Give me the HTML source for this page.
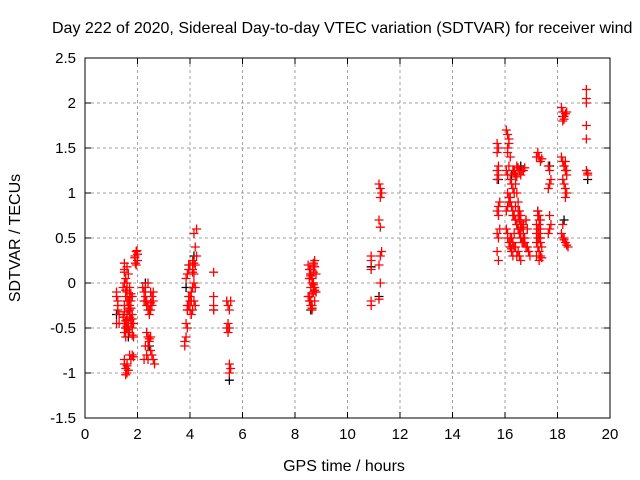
<!DOCTYPE html>
<html><head><meta charset="utf-8"><style>
body{margin:0;background:#fff;}
svg{display:block;font-family:"Liberation Sans",sans-serif;}
</style></head><body>
<svg id="chart" width="640" height="480">
<rect width="640" height="480" fill="#fff"/>
<text x="52" y="33" font-size="16">Day 222 of 2020, Sidereal Day-to-day VTEC variation (SDTVAR) for receiver wind</text>
<g id="grid"></g>
<g id="axes"></g>
<g id="marksB"></g>
<g id="marksR"></g>
<text x="344" y="471" font-size="16" text-anchor="middle">GPS time / hours</text>
<text transform="translate(20,238) rotate(-90)" font-size="16" text-anchor="middle">SDTVAR / TECUs</text>
</svg>
<script>
const xTicks=[0,2,4,6,8,10,12,14,16,18,20];
const yTicks=[-1.5,-1,-0.5,0,0.5,1,1.5,2,2.5];
const xTickLabels=["0","2","4","6","8","10","12","14","16","18","20"];
const yTickLabels=["-1.5","-1","-0.5","0","0.5","1","1.5","2","2.5"];
const redX=[1.2,1.2,1.25,1.25,1.2,1.3,1.3,1.25,
1.5,1.5,1.55,1.6,1.6,1.55,1.5,1.65,1.7,1.6,1.5,1.55,1.7,1.75,1.8,1.6,1.65,1.7,1.75,1.8,1.85,1.5,1.55,1.6,1.65,1.7,1.75,1.6,1.65,
1.45,1.5,1.55,1.6,1.65,1.7,1.75,1.8,1.45,1.5,1.55,1.6,1.65,1.7,1.75,1.8,1.85,1.5,1.6,1.7,1.8,
1.5,1.55,1.6,1.65,1.5,1.6,1.75,1.8,1.85,1.7,1.55,1.6,
1.9,1.95,2.0,1.95,2.0,1.9,1.92,1.98,
2.2,2.25,2.3,2.35,2.4,2.45,2.5,2.3,2.4,2.55,2.6,2.5,2.35,2.45,2.6,2.25,2.3,2.5,2.55,2.4,
2.35,2.4,2.45,2.3,2.5,2.55,2.6,2.65,2.4,2.35,2.25,2.5,2.4,2.45,
3.8,3.85,3.9,3.9,3.95,4.0,4.05,4.1,4.15,4.2,4.2,4.15,4.1,3.85,3.9,4.0,3.95,3.85,3.8,4.05,4.1,4.15,4.2,4.25,4.2,3.9,4.0,4.1,3.95,4.15,4.25,3.9,4.0,4.05,3.95,4.1,4.15,
4.9,4.9,4.9,4.9,
5.4,5.45,5.5,5.55,5.45,5.5,5.4,5.45,5.5,5.55,5.5,
8.5,8.55,8.6,8.65,8.7,8.75,8.8,8.5,8.55,8.6,8.65,8.7,8.75,8.8,8.55,8.6,8.65,8.7,8.75,8.6,8.65,8.7,8.55,8.6,8.7,8.8,8.65,8.75,8.6,8.65,8.7,8.6,8.65,8.7,8.55,8.75,
10.9,10.9,10.9,10.9,10.9,
11.2,11.25,11.3,11.25,11.2,11.25,11.3,11.2,11.25,11.25,11.2,
15.7,15.75,15.7,15.75,15.7,15.75,15.7,15.8,15.75,15.7,15.75,15.8,15.7,15.75,15.7,15.75,
16.05,16.1,16.15,16.1,16.2,16.15,16.05,16.1,16.2,16.25,16.3,16.35,16.2,16.15,16.1,16.05,16.3,16.4,16.45,16.5,16.35,16.25,16.3,16.4,16.5,16.55,16.6,16.45,16.35,16.4,16.45,16.5,16.55,16.6,16.7,16.65,16.75,16.8,16.85,16.6,16.7,16.8,16.9,16.55,16.5,16.45,16.4,16.6,16.7,16.75,16.85,16.9,16.95,16.1,16.15,16.2,16.25,16.3,16.05,16.1,16.2,16.3,16.35,16.4,16.5,16.6,16.7,16.8,
16.1,16.15,16.2,16.25,16.3,16.35,16.4,16.45,16.5,16.55,16.6,16.65,16.3,16.35,16.4,16.45,16.2,16.25,16.5,16.55,16.6,16.65,16.7,16.75,16.1,16.15,
17.2,17.25,17.3,17.35,17.4,17.25,17.3,17.35,17.2,17.25,17.3,17.35,17.2,17.25,17.3,17.35,17.4,17.3,17.2,17.25,17.35,17.4,17.3,17.2,17.3,17.35,17.25,17.3,
17.65,17.7,17.75,17.7,17.65,17.7,17.75,17.7,17.65,
18.15,18.2,18.25,18.3,18.35,18.2,18.25,18.15,18.2,18.25,18.3,18.35,18.2,18.25,18.3,18.35,18.2,18.15,18.25,18.3,18.35,18.4,18.3,18.35,18.25,18.2,18.25,18.3,
19.1,19.1,19.1,19.1,19.1,19.1,19.15,19.15];
const redY=[-0.1,-0.15,-0.2,-0.3,-0.45,-0.45,-0.35,-0.25,
0.22,0.15,0.05,-0.05,-0.1,-0.15,-0.25,-0.3,-0.35,-0.4,-0.45,-0.5,-0.55,-0.45,-0.5,-0.35,-0.2,-0.25,-0.4,-0.35,-0.45,-0.55,-0.6,-0.5,-0.45,-0.3,-0.2,0.0,0.1,
-0.38,-0.32,-0.42,-0.48,-0.52,-0.38,-0.28,-0.58,-0.05,0.0,-0.08,-0.2,-0.28,-0.15,-0.12,-0.4,-0.6,0.12,0.18,-0.05,-0.15,
-0.9,-0.95,-1.0,-0.97,-0.85,-0.9,-0.85,-0.8,-0.82,-0.8,-1.02,-0.92,
0.3,0.35,0.25,0.2,0.32,0.28,0.22,0.36,
-0.05,-0.1,-0.15,-0.2,-0.25,-0.3,-0.22,-0.05,0.0,-0.15,-0.2,-0.3,-0.25,-0.35,-0.1,-0.2,-0.2,-0.1,-0.25,-0.3,
-0.55,-0.6,-0.65,-0.7,-0.75,-0.8,-0.85,-0.9,-0.85,-0.8,-0.85,-0.6,-0.7,-0.62,
-0.7,-0.6,-0.5,-0.3,-0.25,-0.2,-0.35,-0.3,-0.2,-0.25,-0.05,0.1,0.15,0.05,0.1,0.2,0.15,-0.45,-0.65,-0.1,-0.05,0.0,0.2,0.3,0.4,-0.3,-0.15,0.25,0.2,0.55,0.6,-0.25,-0.3,-0.2,-0.15,0.12,0.22,
0.12,-0.15,-0.25,-0.3,
-0.2,-0.25,-0.3,-0.2,-0.45,-0.5,-0.5,-0.55,-0.9,-0.95,-1.0,
0.2,0.15,0.1,0.05,0.0,-0.05,-0.1,-0.15,-0.2,-0.25,-0.3,0.2,0.25,0.1,0.05,-0.05,0.0,-0.1,-0.2,0.15,-0.25,0.22,-0.15,0.1,0.0,-0.1,-0.28,0.18,-0.2,-0.12,-0.02,0.08,-0.28,0.12,0.05,-0.08,
0.3,0.25,0.15,-0.2,-0.25,
1.1,1.05,1.0,0.95,0.7,0.62,0.35,0.2,0.3,-0.0,-0.18,
1.55,1.5,1.45,1.3,1.25,1.2,1.15,0.9,0.85,0.8,0.75,0.6,0.55,0.5,0.35,0.25,
1.7,1.65,1.55,1.45,1.4,1.3,1.25,1.2,1.15,1.1,1.05,1.0,0.95,0.9,0.85,0.8,0.75,0.7,0.65,0.6,0.55,0.5,0.45,0.4,0.35,0.3,0.25,0.3,1.25,1.2,1.3,1.28,1.25,1.2,1.25,1.25,1.28,0.7,0.6,0.5,0.45,0.4,0.35,0.8,0.9,1.0,1.1,0.6,0.5,0.45,0.4,0.35,0.3,0.5,0.45,0.4,0.35,0.3,0.6,0.55,0.5,0.45,0.4,0.85,0.8,0.75,0.65,0.7,
1.0,0.95,0.9,0.85,0.8,0.75,0.7,0.65,0.6,0.55,0.5,0.45,1.25,1.22,1.2,1.18,0.4,0.38,0.75,0.7,0.68,0.62,0.55,0.5,1.5,1.6,
1.4,1.45,1.4,1.35,1.38,0.8,0.75,0.7,0.65,0.6,0.55,0.5,0.45,0.4,0.35,0.3,0.28,0.25,0.55,0.5,0.45,0.4,0.5,0.3,0.65,0.6,0.75,0.7,
1.3,1.25,1.15,1.1,1.05,0.75,0.65,0.6,0.55,
1.95,1.9,1.85,1.88,1.9,1.8,1.82,1.4,1.35,1.3,1.25,1.2,1.15,1.1,1.05,1.0,0.65,0.55,0.5,0.45,0.42,0.4,0.95,1.25,1.3,0.5,0.48,1.35,
2.15,2.05,2.0,1.75,1.6,1.25,1.2,1.22];
const blackX=[1.2,1.55,1.65,2.3,2.45,3.85,4.15,4.9,5.5,8.6,10.9,11.2,15.75,16.25,16.6,17.25,17.7,18.2,18.25,19.15];
const blackY=[-0.35,-0.5,-0.6,0.0,-0.7,-0.05,0.3,-0.3,-1.08,-0.3,0.18,-0.15,1.15,1.2,1.3,0.8,1.3,1.85,0.7,1.15];
const NS="http://www.w3.org/2000/svg";
const L=85,R=610,T=58,B=418;
const sx=v=>L+(v-0)/20*(R-L);
const sy=v=>B-(v+1.5)/4*(B-T);
function mk(tag,a,p){const e=document.createElementNS(NS,tag);for(const k in a)e.setAttribute(k,a[k]);p.appendChild(e);return e;}
const grid=document.getElementById('grid'),axes=document.getElementById('axes');
xTicks.forEach((t,i)=>{const x=sx(t);
 if(i>0&&i<xTicks.length-1){const g=mk('line',{x1:x,x2:x,y1:T,y2:B,stroke:'#a0a0a0','stroke-dasharray':'3,3'},grid);
 }
 mk('line',{x1:x,x2:x,y1:B,y2:B-6,stroke:'#000'},axes);mk('line',{x1:x,x2:x,y1:T,y2:T+6,stroke:'#000'},axes);
 const tx=mk('text',{x:x,y:B+21,'font-size':15,'text-anchor':'middle'},axes);tx.textContent=xTickLabels[i];
 });
yTicks.forEach((t,i)=>{const y=sy(t);
 if(i>0&&i<yTicks.length-1){const g=mk('line',{x1:L,x2:R,y1:y,y2:y,stroke:'#a0a0a0','stroke-dasharray':'3,3'},grid);
 }
 mk('line',{x1:L,x2:L+6,y1:y,y2:y,stroke:'#000'},axes);mk('line',{x1:R,x2:R-6,y1:y,y2:y,stroke:'#000'},axes);
 const tx=mk('text',{x:L-9,y:y+5,'font-size':15,'text-anchor':'end'},axes);tx.textContent=yTickLabels[i];
 });
const fr=mk('rect',{x:L,y:T,width:R-L,height:B-T,fill:'none',stroke:'#000'},axes);

function plus(x,y,c,p){const g=mk('path',{d:`M${x-4.5},${y}h9M${x},${y-4.5}v9`,stroke:c,'stroke-width':1.3,fill:'none'},p);return g;}
const gB=document.getElementById('marksB'),gR=document.getElementById('marksR');
blackX.forEach((v,i)=>{const m=plus(sx(v),sy(blackY[i]),'#000',gB);
 
 });
redX.forEach((v,i)=>{const m=plus(sx(v),sy(redY[i]),'#ff0000',gR);
 
 });
</script>
</body></html>
